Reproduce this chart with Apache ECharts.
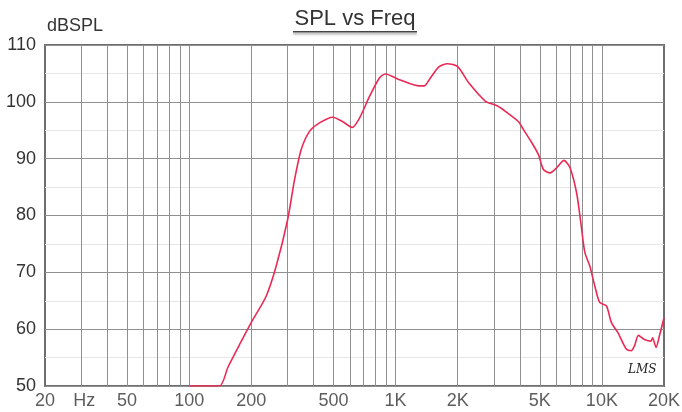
<!DOCTYPE html>
<html>
<head>
<meta charset="utf-8">
<script src="https://cdn.jsdelivr.net/npm/echarts@6/dist/echarts.min.js"></script>
<style>
html,body{margin:0;padding:0;background:#fff;}
#chart{width:682px;height:412px;}
</style>
</head>
<body>
<div id="chart"></div>
<script>
// Frequency response (Hz) and SPL (dB)
var freq = [100, 140, 154, 176, 200, 236, 264, 300, 324, 349, 383, 428, 496, 555, 616, 668, 747, 835, 893, 1044, 1304, 1380, 1456, 1626, 1784, 2000, 2268, 2730, 3106, 3534, 3946, 4170, 4576, 4926, 5208, 5610, 6040, 6550, 7006, 7540, 7908, 8268, 8740, 9240, 9760, 10520, 11110, 11960, 13120, 13880, 14400, 15030, 16070, 17300, 17600, 18300, 19000, 20000];
var spl = [50, 50, 53.3, 57.4, 61.2, 65.8, 71.1, 79.3, 86.3, 91.6, 94.8, 96.3, 97.3, 96.5, 95.5, 97.1, 100.9, 104.2, 104.9, 103.9, 102.8, 102.8, 103.9, 106.2, 106.7, 106.2, 103.3, 100.1, 99.3, 97.9, 96.5, 95.1, 92.8, 90.7, 88.1, 87.5, 88.4, 89.7, 88.4, 84.0, 78.7, 73.5, 71.1, 67.6, 64.7, 64.1, 61.2, 59.4, 56.5, 56.2, 57.1, 58.9, 58.2, 57.9, 58.5, 56.8, 58.8, 62];

// vertical grid frequencies
var gridFreqs = [30, 40, 50, 60, 70, 80, 90, 100, 200, 300, 400, 500, 600, 700, 800, 900, 1000, 2000, 3000, 4000, 5000, 6000, 7000, 8000, 9000, 10000];
// x tick labels and their frequencies
var tickFreqs = [20, 31, 50, 100, 200, 500, 1000, 2000, 5000, 10000, 20000];
var tickLabels = ['20', 'Hz', '50', '100', '200', '500', '1K', '2K', '5K', '10K', '20K'];

var yMin = 50, yMax = 110, yStep = 10;
var titleText = 'SPL vs Freq';
var yName = 'dBSPL';

var labelFont = 'Liberation Sans';
var chart = echarts.init(document.getElementById('chart'), null, {renderer: 'canvas'});

var option = {
  animation: false,
  backgroundColor: '#ffffff',
  grid: {
    left: 45, right: 18, top: 45, bottom: 26,
    show: true, borderColor: '#6e6e6e', borderWidth: 2, backgroundColor: 'transparent'
  },
  xAxis: {
    type: 'log', logBase: 10, min: 20, max: 20000,
    axisLine: {show: false}, axisTick: {show: false}, axisLabel: {show: false},
    splitLine: {show: false}
  },
  yAxis: {
    type: 'value', min: yMin, max: yMax, interval: yStep,
    axisLine: {show: false}, axisTick: {show: false},
    axisLabel: {fontFamily: labelFont, fontSize: 18, color: '#333', margin: 9},
    splitLine: {lineStyle: {color: '#909090', width: 1}},
    minorTick: {show: false, splitNumber: 2},
    minorSplitLine: {show: true, lineStyle: {color: '#e6e6e6', width: 1}}
  },
  graphic: [
    {type: 'text', x: 355, y: 8, z: 10, style: {text: titleText, textAlign: 'center', fontFamily: 'Liberation Sans', fontSize: 22, fill: '#333',
      shadowColor: 'rgba(0,0,0,0.35)', shadowOffsetX: 1, shadowOffsetY: 2, shadowBlur: 2}},
    {type: 'rect', shape: {x: 293, y: 31, width: 124, height: 1.5}, style: {fill: '#444', shadowColor: 'rgba(0,0,0,0.35)', shadowOffsetY: 2, shadowBlur: 2}},
    {type: 'text', x: 47, y: 17, style: {text: yName, fontFamily: labelFont, fontSize: 18, fill: '#333'}},
    {type: 'text', x: 628, y: 364, z: 10, style: {text: 'LMS', fontFamily: 'DejaVu Serif', fontStyle: 'italic', fontSize: 12, fill: '#222'}}
  ],
  series: [
    {
      type: 'line', data: [], silent: true, z: 1,
      markLine: {
        silent: true, symbol: 'none', animation: false,
        label: {show: false},
        lineStyle: {color: '#909090', type: 'solid', width: 1},
        data: gridFreqs.map(function (f) { return {xAxis: f}; })
      }
    },
    {
      type: 'line', z: 5, showSymbol: false, smooth: 0.25,
      data: freq.map(function (f, i) { return [f, spl[i]]; }),
      lineStyle: {color: '#ea2a55', width: 1.6},
      itemStyle: {color: '#ea2a55'}
    },
    {
      type: 'scatter', z: 6, symbolSize: 0, clip: false, silent: true,
      data: tickFreqs.map(function (f) { return [f, yMin]; }),
      label: {
        show: true, position: 'bottom', distance: 6,
        fontFamily: labelFont, fontSize: 18, color: '#333',
        formatter: function (p) { return tickLabels[p.dataIndex]; }
      }
    }
  ]
};
chart.setOption(option);
</script>
</body>
</html>
